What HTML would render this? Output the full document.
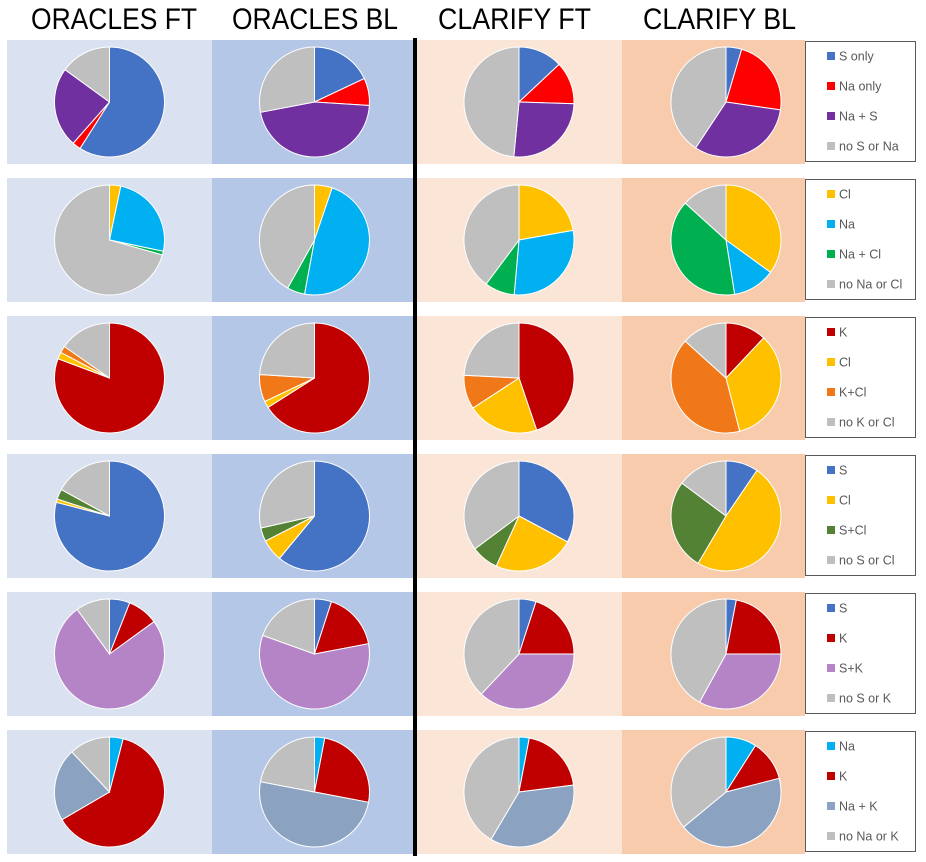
<!DOCTYPE html>
<html><head><meta charset="utf-8"><style>
html,body{margin:0;padding:0;background:#fff;}
svg{display:block;font-family:"Liberation Sans",sans-serif;}
</style></head><body>
<svg id="chart" width="926" height="862" viewBox="0 0 926 862" xmlns="http://www.w3.org/2000/svg"></svg>
<script>
const columns = ["ORACLES FT","ORACLES BL","CLARIFY FT","CLARIFY BL"];
const legendLabels = [
  ["S only","Na only","Na + S","no S or Na"],
  ["Cl","Na","Na + Cl","no Na or Cl"],
  ["K","Cl","K+Cl","no K or Cl"],
  ["S","Cl","S+Cl","no S or Cl"],
  ["S","K","S+K","no S or K"],
  ["Na","K","Na + K","no Na or K"]
];
const row1Values = [[59,2.5,23.5,15],[18,8,46,28],[13,12.5,26,48.5],[4.6,22.7,32,40.7]];
const row2Values = [[3.3,25,1.1,70.6],[5.2,47.7,5.2,41.9],[22.2,29.2,8.8,39.8],[35,12.5,39.2,13.3]];
const row3Values = [[80.7,2,2,15.3],[66,2,8,24],[44.8,21,10,24.2],[12,34,40.7,13.3]];
const row4Values = [[79,1,3,17],[61,6.5,4,28.5],[32.8,24,8,35.2],[9.5,49,26.7,14.8]];
const row5Values = [[6,9,75,10],[5,17,58.5,19.5],[5,20,37,38],[3,22,33,42]];
const row6Values = [[4,62.6,21.4,12],[3,25,50,22],[3,20,35.5,41.5],[9,12,43,36]];
const rowValues = [row1Values,row2Values,row3Values,row4Values,row5Values,row6Values];
const rowColors = [
  ["#4472c4","#ff0000","#7030a0","#bfbfbf"],
  ["#ffc000","#00b0f0","#00b050","#bfbfbf"],
  ["#c00000","#ffc000","#f07818","#bfbfbf"],
  ["#4472c4","#ffc000","#548235","#bfbfbf"],
  ["#4472c4","#c00000","#b584c6","#bfbfbf"],
  ["#00b0f0","#c00000","#8ba3c1","#bfbfbf"]
];

const NS="http://www.w3.org/2000/svg";
const svg=document.getElementById('chart');
function mk(tag,attrs){const e=document.createElementNS(NS,tag);for(const k in attrs)e.setAttribute(k,attrs[k]);return e;}

const panelX=[7,212,417,622];
const panelW=[205,201,205,183];
const panelBg=["#dae1f0","#b4c7e7","#fbe5d6","#f8cbad"];
const centerX=[109.5,314.5,519,726];
const headerX=[[31,197],[232,398],[438,591],[643,796]];
const rowTop0=40, rowPitch=138, rowH=124, R=55;

columns.forEach((c,i)=>{
  const t=mk('text',{x:headerX[i][0],y:29,'font-size':30,fill:'#000',textLength:headerX[i][1]-headerX[i][0],lengthAdjust:'spacingAndGlyphs'});
  t.textContent=c;
  
  
  svg.appendChild(t);
});

function polar(cx,cy,r,frac){const a=frac*2*Math.PI;return [cx+r*Math.sin(a),cy-r*Math.cos(a)];}

rowValues.forEach((vals,ri)=>{
  const top=rowTop0+ri*rowPitch, cy=top+rowH/2;
  vals.forEach((v,ci)=>{
    const bg=mk('rect',{x:panelX[ci],y:top,width:panelW[ci],height:rowH,fill:panelBg[ci]});
    
    
    svg.appendChild(bg);
    const g=mk('g',{});
    
    
    const total=v.reduce((a,b)=>a+b,0);
    let acc=0;
    v.forEach((val,si)=>{
      const f0=acc/total; acc+=val; const f1=acc/total;
      const [x0,y0]=polar(centerX[ci],cy,R,f0), [x1,y1]=polar(centerX[ci],cy,R,f1);
      const large=(f1-f0)>0.5?1:0;
      const p=mk('path',{d:`M${centerX[ci]},${cy}L${x0},${y0}A${R},${R} 0 ${large} 1 ${x1},${y1}Z`,fill:rowColors[ri][si],stroke:'#fff','stroke-width':1});
      
      
      g.appendChild(p);
    });
    svg.appendChild(g);
  });
  // legend
  const lg=mk('g',{});
  
  
  lg.appendChild(mk('rect',{x:805.5,y:top+1.5,width:110,height:120,fill:'#fff',stroke:'#595959','stroke-width':1}));
  legendLabels[ri].forEach((lab,li)=>{
    const ly=top+16+li*30;
    const e=mk('g',{});
    
    
    e.appendChild(mk('rect',{x:827,y:ly-4,width:8,height:8,fill:rowColors[ri][li]}));
    const t=mk('text',{x:839,y:ly+4.5,'font-size':12.5,fill:'#595959'});
    t.textContent=lab;
    e.appendChild(t);
    lg.appendChild(e);
  });
  svg.appendChild(lg);
});

const line=mk('rect',{x:413,y:38,width:4,height:818,fill:'#000'});


svg.appendChild(line);
</script>
</body></html>
